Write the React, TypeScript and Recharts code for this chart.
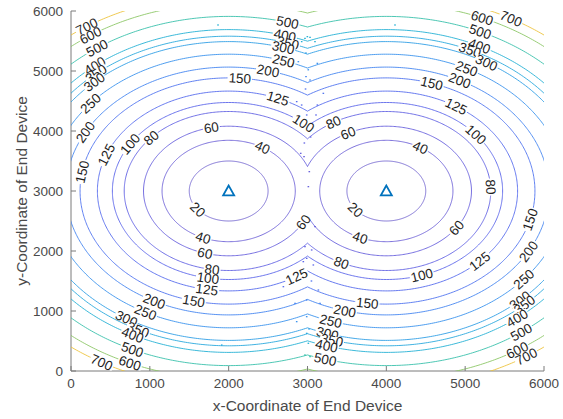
import React from 'react';
import { ScatterChart, Scatter, XAxis, YAxis } from 'recharts';

// ---- data ----
const levels = [20, 40, 60, 80, 100, 125, 150, 200, 250, 300, 350, 400, 500, 600, 700];
// radius (in coordinate units) of each contour level around its gateway
const radii = [500, 845, 1080, 1325, 1475, 1665, 1885, 2065, 2280, 2490, 2580, 2690, 2910, 3130, 3280];
const levelColors = [
  '#6a5ccc', '#6558d4', '#5e56da', '#5858e2', '#525ce8', '#4c62ec', '#466cee',
  '#3a7ef0', '#2f8cec', '#259ae4', '#1ea4dc', '#19acd2', '#2ebda6', '#86c45e', '#ecc034',
];
const gatewayX = [2000, 4000];
const gatewayY = [3000, 3000];
const axisTicks = [0, 1000, 2000, 3000, 4000, 5000, 6000];

// contour label positions: [level, x, y]
const contourLabels: [number, number, number][] = [
  [20, 1598, 2683], [40, 1675, 2217], [60, 1700, 1967], [80, 1789, 1683], [100, 1738, 1550],
  [125, 1725, 1367], [150, 1548, 1133], [200, 1066, 1183], [250, 939, 967], [300, 710, 883],
  [350, 850, 683], [400, 774, 583], [500, 774, 350], [600, 748, 133], [700, 393, 150],
  [700, 216, 5717], [600, 266, 5567], [500, 330, 5383], [400, 279, 5117], [350, 266, 5017],
  [300, 216, 4900], [250, 241, 4467], [200, 178, 3983], [150, 152, 3317], [150, 2144, 4900],
  [125, 457, 3600], [100, 723, 3800], [80, 1002, 3900], [60, 1789, 4017], [40, 2423, 3717],
  [500, 2753, 5833], [400, 2715, 5600], [350, 2753, 5467], [300, 2690, 5383], [250, 2690, 5150],
  [200, 2499, 5000], [125, 2613, 4517], [100, 2968, 4150], [80, 3324, 4150], [60, 3514, 3967],
  [20, 3603, 2683], [40, 3666, 2217], [60, 2943, 2483], [80, 3412, 1767], [125, 2867, 1567],
  [150, 3755, 1100], [200, 3476, 1017], [250, 3286, 800], [300, 3247, 600], [350, 3311, 517],
  [400, 3247, 433], [500, 3222, 183],
  [600, 5214, 5883], [700, 5569, 5850], [500, 5188, 5650], [400, 5188, 5433], [350, 5061, 5350],
  [300, 5277, 5150], [250, 5023, 5050], [200, 4909, 4800], [150, 4579, 4800], [125, 4871, 4383],
  [100, 5125, 3933], [40, 4427, 3717], [80, 5315, 3067],
  [60, 4871, 2400], [100, 4453, 1583], [125, 5163, 1850], [150, 5848, 2517], [200, 5823, 1983],
  [250, 5759, 1517], [300, 5721, 1150], [350, 5759, 1100], [400, 5658, 883], [500, 5721, 633],
  [600, 5658, 350], [700, 5759, 267],
];

// stray contour fragments (small dots) seen along the mid line: [x, y]
const strayDots: [number, number][] = [
  [2998, 5572], [3032, 5561], [2968, 5544], [2926, 5489], [3095, 5489], [2884, 5155],
  [3125, 5128], [2981, 4906], [3032, 4850], [2863, 4489], [2926, 4433], [3125, 4433],
  [3201, 4628], [2990, 4267], [3108, 4267], [2914, 3628], [2956, 3572], [3023, 3322],
  [3011, 3072], [2905, 2461], [3095, 2406], [2968, 2072], [3053, 2017], [2990, 1878],
  [2947, 1822], [3074, 1767], [2694, 1405], [3138, 1350], [2990, 1183], [2842, 1128],
  [3159, 1128], [2990, 905], [2863, 822], [2990, 628], [3011, 462], [2968, 267],
  [3032, 239], [1912, 433], [4110, 5767], [1865, 5767], [3010, 5020], [2975, 4700],
  [3040, 3900], [2960, 3800], [3050, 1500], [2950, 1600], [3020, 700], [2980, 5300],
];

// ---- layout ----
const W = 563;
const H = 419;
const M = { top: 11, right: 19, left: 0, bottom: 0 };
const Y_AXIS_W = 71;
const X_AXIS_H = 48;
const PLOT_W = W - M.left - M.right - Y_AXIS_W;
const PLOT_H = H - M.top - M.bottom - X_AXIS_H;
const DOMAIN: [number, number] = [0, 6000];
const SX = PLOT_W / (DOMAIN[1] - DOMAIN[0]);
const SY = PLOT_H / (DOMAIN[1] - DOMAIN[0]);
const FONT = '"Liberation Sans", Arial, Helvetica, sans-serif';
const TICK_COLOR = '#4a4a4a';
const AXIS_COLOR = '#7a7a7a';

// ---- tables built from the arrays ----
const MID = (gatewayX[0] + gatewayX[1]) / 2;
const STEPS = 360;

function nearestGateway(x: number, y: number) {
  let best = 0;
  let bd = Infinity;
  gatewayX.forEach((gx, i) => {
    const d = Math.hypot(x - gx, y - gatewayY[i]);
    if (d < bd) {
      bd = d;
      best = i;
    }
  });
  return { gi: best, d: bd };
}

function contourPoints(gi: number, r: number) {
  const gx = gatewayX[gi];
  const gy = gatewayY[gi];
  const h = Math.abs(MID - gx);
  let t0: number;
  let t1: number;
  if (r <= h) {
    t0 = 0;
    t1 = 2 * Math.PI;
  } else {
    const c = Math.acos(h / r);
    if (gx < MID) {
      t0 = c;
      t1 = 2 * Math.PI - c;
    } else {
      t0 = -(Math.PI - c);
      t1 = Math.PI - c;
    }
  }
  const pts: { x: number; y: number }[] = [];
  for (let k = 0; k <= STEPS; k++) {
    const t = t0 + ((t1 - t0) * k) / STEPS;
    pts.push({ x: gx + r * Math.cos(t), y: gy + r * Math.sin(t) });
  }
  return pts;
}

const contourSeries: { key: string; color: string; pts: { x: number; y: number }[] }[] = [];
levels.forEach((lv, i) => {
  gatewayX.forEach((_, gi) => {
    contourSeries.push({ key: `c-${lv}-${gi}`, color: levelColors[i], pts: contourPoints(gi, radii[i]) });
  });
});

const labelData = contourLabels.map(([lv, x, y]) => {
  const { gi } = nearestGateway(x, y);
  const r = radii[levels.indexOf(lv)];
  const t = Math.atan2(y - gatewayY[gi], x - gatewayX[gi]);
  return { x: gatewayX[gi] + r * Math.cos(t), y: gatewayY[gi] + r * Math.sin(t), text: String(lv), gi };
});

const dotData = strayDots.map(([x, y]) => {
  const { d } = nearestGateway(x, y);
  let li = 0;
  radii.forEach((r, i) => {
    if (Math.abs(r - d) < Math.abs(radii[li] - d)) li = i;
  });
  return { x, y, color: levelColors[li] };
});

const gatewayData = gatewayX.map((x, i) => ({ x, y: gatewayY[i] }));

// ---- shapes ----
const NoShape = () => <g />;

const DotShape = (props: any) => {
  const { cx, cy, payload } = props;
  if (cx == null || cy == null) return <g />;
  return <rect x={cx - 0.8} y={cy - 0.6} width={1.6} height={1.2} fill={payload.color} />;
};

const LabelShape = (props: any) => {
  const { cx, cy, payload } = props;
  if (cx == null || cy == null) return <g />;
  const gi = payload.gi;
  const u = (payload.x - gatewayX[gi]) * SX;
  const v = -(payload.y - gatewayY[gi]) * SY;
  const tx = -v / (SY * SY);
  const ty = u / (SX * SX);
  let ang = (Math.atan2(ty, tx) * 180) / Math.PI;
  if (ang > 90) ang -= 180;
  if (ang < -90) ang += 180;
  const fs = 13.5;
  const w = payload.text.length * 0.556 * fs + 2;
  return (
    <g transform={`translate(${cx},${cy}) rotate(${ang})`}>
      <rect x={-w / 2} y={-4} width={w} height={8} fill="#ffffff" />
      <text
        x={0}
        y={0}
        dy="0.35em"
        textAnchor="middle"
        fontFamily={FONT}
        fontSize={fs}
        fill="#1e1e1e"
      >
        {payload.text}
      </text>
    </g>
  );
};

const TriangleShape = (props: any) => {
  const { cx, cy } = props;
  if (cx == null || cy == null) return <g />;
  const s = 5.5;
  return (
    <polygon
      points={`${cx},${cy - s} ${cx - s},${cy + s * 0.8} ${cx + s},${cy + s * 0.8}`}
      fill="none"
      stroke="#0072BD"
      strokeWidth={1.8}
      strokeLinejoin="miter"
    />
  );
};

const BottomTick = (props: any) => {
  const { x, y, payload } = props;
  return (
    <g>
      <line x1={x} y1={y} x2={x} y2={y - 5} stroke={AXIS_COLOR} />
      <text x={x} y={y + 17} textAnchor="middle" fontFamily={FONT} fontSize={13.5} fill={TICK_COLOR}>
        {payload.value}
      </text>
    </g>
  );
};
const TopTick = (props: any) => {
  const { x, y } = props;
  return <line x1={x} y1={y} x2={x} y2={y + 5} stroke={AXIS_COLOR} />;
};
const LeftTick = (props: any) => {
  const { x, y, payload } = props;
  return (
    <g>
      <line x1={x} y1={y} x2={x + 5} y2={y} stroke={AXIS_COLOR} />
      <text x={x - 8} y={y} dy="0.35em" textAnchor="end" fontFamily={FONT} fontSize={13.5} fill={TICK_COLOR}>
        {payload.value}
      </text>
    </g>
  );
};
const RightTick = (props: any) => {
  const { x, y } = props;
  return <line x1={x} y1={y} x2={x - 5} y2={y} stroke={AXIS_COLOR} />;
};

const XTitle = () => (
  <text
    x={M.left + Y_AXIS_W + PLOT_W / 2}
    y={H - 8}
    textAnchor="middle"
    fontFamily={FONT}
    fontSize={15.5}
    fill={TICK_COLOR}
  >
    x-Coordinate of End Device
  </text>
);
const YTitle = () => (
  <text
    transform={`translate(${22},${M.top + PLOT_H / 2}) rotate(-90)`}
    textAnchor="middle"
    dy="0.35em"
    fontFamily={FONT}
    fontSize={15.5}
    fill={TICK_COLOR}
  >
    y-Coordinate of End Device
  </text>
);

export default function App() {
  return (
    <div style={{ position: 'absolute', left: 0, top: 0, width: W, height: H, background: '#ffffff' }}>
      <ScatterChart width={W} height={H} margin={M}>
        <XAxis
          xAxisId={0}
          type="number"
          dataKey="x"
          domain={DOMAIN}
          allowDataOverflow
          ticks={axisTicks}
          height={X_AXIS_H}
          tickSize={0}
          tickMargin={0}
          tickLine={false}
          tick={BottomTick}
          axisLine={{ stroke: AXIS_COLOR }}
          label={{ content: XTitle }}
        />
        <XAxis
          xAxisId="top"
          orientation="top"
          type="number"
          dataKey="x"
          domain={DOMAIN}
          allowDataOverflow
          ticks={axisTicks}
          height={0}
          tickSize={0}
          tickMargin={0}
          tickLine={false}
          tick={TopTick}
          axisLine={{ stroke: AXIS_COLOR }}
        />
        <YAxis
          yAxisId={0}
          type="number"
          dataKey="y"
          domain={DOMAIN}
          allowDataOverflow
          ticks={axisTicks}
          width={Y_AXIS_W}
          tickSize={0}
          tickMargin={0}
          tickLine={false}
          tick={LeftTick}
          axisLine={{ stroke: AXIS_COLOR }}
          label={{ content: YTitle }}
        />
        <YAxis
          yAxisId="right"
          orientation="right"
          type="number"
          dataKey="y"
          domain={DOMAIN}
          allowDataOverflow
          ticks={axisTicks}
          width={0}
          tickSize={0}
          tickMargin={0}
          tickLine={false}
          tick={RightTick}
          axisLine={{ stroke: AXIS_COLOR }}
        />
        {contourSeries.map((s) => (
          <Scatter
            key={s.key}
            xAxisId={0}
            yAxisId={0}
            data={s.pts}
            line={{ stroke: s.color, strokeWidth: 0.85 }}
            lineType="joint"
            shape={NoShape}
            isAnimationActive={false}
            legendType="none"
          />
        ))}
        <Scatter
          xAxisId={0}
          yAxisId={0}
          data={dotData}
          shape={DotShape}
          isAnimationActive={false}
          legendType="none"
        />
        <Scatter
          xAxisId={0}
          yAxisId={0}
          data={labelData}
          shape={LabelShape}
          isAnimationActive={false}
          legendType="none"
        />
        <Scatter
          xAxisId={0}
          yAxisId={0}
          data={gatewayData}
          shape={TriangleShape}
          isAnimationActive={false}
          legendType="none"
        />
      </ScatterChart>
    </div>
  );
}
